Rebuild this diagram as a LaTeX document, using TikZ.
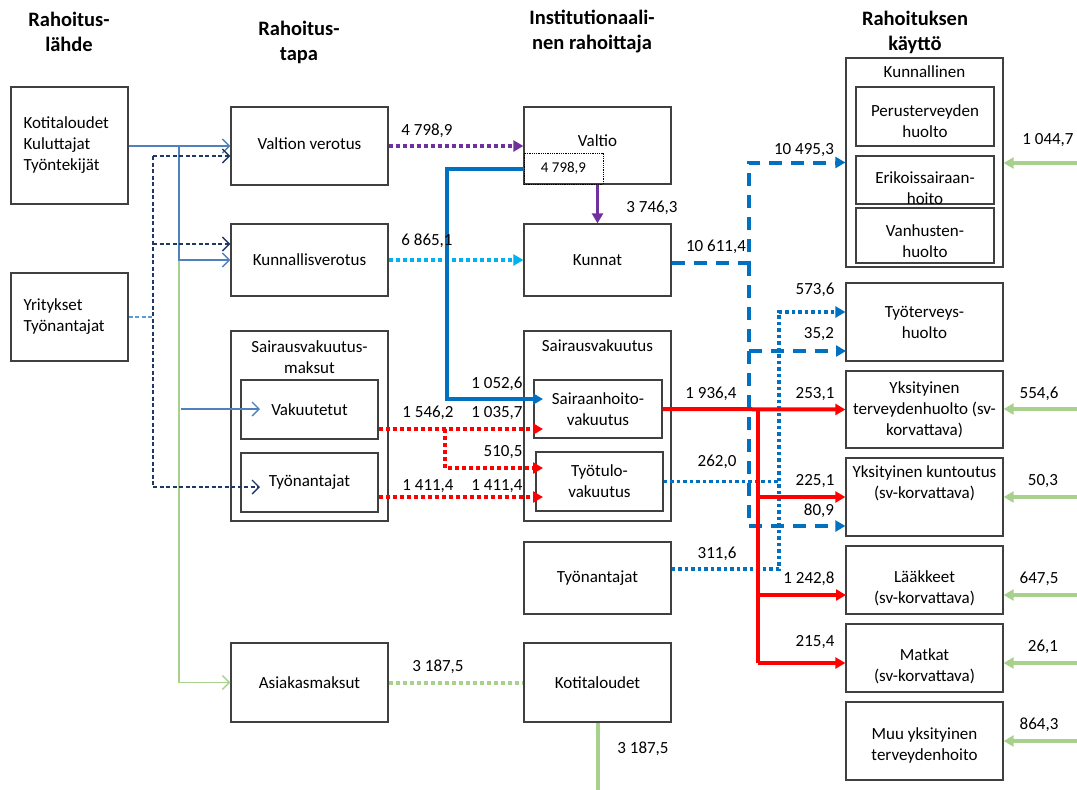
\documentclass[tikz,border=0pt]{standalone}
\usepackage{fontspec}
\setmainfont{Carlito}
\usetikzlibrary{arrows.meta}
\definecolor{srcblue}{HTML}{4F81BD}
\definecolor{navyblue}{HTML}{1F3864}
\definecolor{paleblue}{HTML}{5B9BD5}
\definecolor{flowgreen}{HTML}{A9D18E}
\definecolor{flowpurple}{HTML}{7030A0}
\definecolor{flowcyan}{HTML}{00B0F0}
\definecolor{flowblue}{HTML}{0070C0}
\definecolor{flowred}{HTML}{FF0000}

\begin{document}
\begin{tikzpicture}[x=1pt,y=-1pt,
  every node/.style={align=center},
  font=\fontsize{17}{21}\selectfont,
  >={Triangle[length=10pt,width=11pt]},
  box/.style={draw=black!75,line width=1.3pt,inner sep=0pt},
  head/.style={font=\fontsize{20.5}{25}\selectfont\bfseries},
  opentip/.style={-{Straight Barb[length=7pt,width=14pt]}},
  srcline/.style={draw=srcblue,line width=1.4pt},
  navydash/.style={draw=navyblue,line width=1.4pt,dash pattern=on 4pt off 2.5pt},
  lightdash/.style={draw=paleblue,line width=1.4pt,dash pattern=on 4pt off 2.5pt},
  greenthin/.style={draw=flowgreen,line width=1.4pt},
  purpledot/.style={draw=flowpurple,line width=4pt,dash pattern=on 4pt off 3pt},
  cyandot/.style={draw=flowcyan,line width=4pt,dash pattern=on 4pt off 3pt},
  reddot/.style={draw=flowred,line width=4pt,dash pattern=on 4pt off 3pt},
  greendot/.style={draw=flowgreen,line width=4pt,dash pattern=on 4pt off 3pt},
  bluedot/.style={draw=flowblue,line width=3.5pt,dash pattern=on 3.5pt off 3pt},
  bluedash/.style={draw=flowblue,line width=4pt,dash pattern=on 13pt off 9pt},
  blueline/.style={draw=flowblue,line width=4pt},
  purpleline/.style={draw=flowpurple,line width=3pt},
  redline/.style={draw=flowred,line width=4pt},
  greenline/.style={draw=flowgreen,line width=4pt}]

\useasboundingbox (0,0) rectangle (1077,790);

\node[head] (hsource) at (69,32) {Rahoitus-\\lähde};
\node[head] (hmethod) at (299,42) {Rahoitus-\\tapa};
\node[head] (hinst) at (592,32) {Institutionaali-\\nen rahoittaja};
\node[head] (huse) at (915,32) {Rahoituksen\\käyttö};

\node[box,minimum width=117pt,minimum height=117pt,text width=92pt,align=left] (households) at (69.5,145.5) {Kotitaloudet\\Kuluttajat\\Työntekijät};
\node[box,minimum width=117pt,minimum height=88pt,text width=92pt,align=left] (firms) at (69.5,317) {Yritykset\\Työnantajat};

\node[box,minimum width=157pt,minimum height=78pt,text depth=5pt] (statetax) at (309.5,146) {Valtion verotus};
\node[box,minimum width=157pt,minimum height=72pt] (munitax) at (309.5,260) {Kunnallisverotus};
\node[box,minimum width=157pt,minimum height=190pt] (premiums) at (309.5,426) {};
\node (premiumstitle) at (309.5,357) {Sairausvakuutus-\\maksut};
\node[box,minimum width=137pt,minimum height=59pt] (insured) at (309.5,409.5) {Vakuutetut};
\node[box,minimum width=137pt,minimum height=59pt] (employerpay) at (309.5,482.5) {Työnantajat};
\node[box,minimum width=157pt,minimum height=79pt] (userfees) at (309.5,682.5) {Asiakasmaksut};

\node[box,minimum width=147pt,minimum height=77pt] (state) at (597.5,145.5) {};
\node (statetext) at (597.5,141) {Valtio};
\node[draw,densely dotted,line width=0.8pt,inner sep=0pt,minimum width=79pt,minimum height=31pt,font=\fontsize{15}{18}\selectfont] (statesum) at (563.5,168.5) {4 798,9};
\node[box,minimum width=147pt,minimum height=72pt] (munis) at (597.5,260) {Kunnat};
\node[box,minimum width=147pt,minimum height=190pt] (insurance) at (597.5,426) {};
\node (insurancetitle) at (597.5,346) {Sairausvakuutus};
\node[box,minimum width=128pt,minimum height=58pt] (medical) at (598,409) {Sairaanhoito-\\vakuutus};
\node[box,minimum width=127pt,minimum height=59pt] (income) at (599.5,481.5) {Työtulo-\\vakuutus};
\node[box,minimum width=147pt,minimum height=72pt] (employers) at (597.5,578) {Työnantajat};
\node[box,minimum width=147pt,minimum height=79pt] (homes) at (597.5,682.5) {Kotitaloudet};

\node[box,minimum width=157pt,minimum height=209pt] (municipal) at (924.5,162.5) {};
\node (municipaltitle) at (924.5,72) {Kunnallinen};
\node[box,minimum width=138pt,minimum height=59pt] (primary) at (925,116.5) {};
\node (primarytext) at (925,121) {Perusterveyden\\huolto};
\node[box,minimum width=138pt,minimum height=48pt] (special) at (925,180) {};
\node (specialtext) at (925,188.5) {Erikoissairaan-\\hoito};
\node[box,minimum width=138pt,minimum height=55pt] (elderly) at (925,235.5) {};
\node (elderlytext) at (925,241.5) {Vanhusten-\\huolto};
\node[box,minimum width=157pt,minimum height=78pt] (occupational) at (924.5,322) {Työterveys-\\huolto};
\node[box,minimum width=157pt,minimum height=77pt] (private) at (924.5,409.5) {Yksityinen\\terveydenhuolto (sv-\\korvattava)};
\node[box,minimum width=157pt,minimum height=78pt] (rehab) at (924.5,497) {};
\node (rehabtext) at (924.5,483) {Yksityinen kuntoutus\\(sv-korvattava)};
\node[box,minimum width=157pt,minimum height=68pt] (medicines) at (924.5,580) {};
\node (medicinestext) at (924.5,588) {Lääkkeet\\(sv-korvattava)};
\node[box,minimum width=157pt,minimum height=68pt] (travel) at (924.5,658) {};
\node (traveltext) at (924.5,666) {Matkat\\(sv-korvattava)};
\node[box,minimum width=157pt,minimum height=78pt] (othercare) at (924.5,741) {};
\node (othercaretext) at (924.5,745) {Muu yksityinen\\terveydenhoito};

\coordinate (srcsplit) at (179,146);
\coordinate (feesplit) at (179,260);
\coordinate (insuredfrom) at (181,409);
\coordinate (insuredtip) at (260,409);
\coordinate (firmsplit) at (153,156);
\coordinate (firmmuni) at (153,244);
\coordinate (firmbottom) at (153,487);
\coordinate (employertip) at (260,487);

\draw[greenthin,opentip] (feesplit) |- (userfees.west);
\draw[srcline,opentip] (households.east |- srcsplit) -- (statetax.west |- srcsplit);
\draw[srcline,opentip] (srcsplit) |- (munitax.west);
\draw[srcline,opentip] (insuredfrom) -- (insuredtip);
\draw[lightdash] (firms.east) -- (firms.east -| firmsplit);
\draw[navydash] (firmsplit) -- (firmbottom);
\draw[navydash,opentip] (firmsplit) -- (firmsplit -| statetax.west);
\draw[navydash,opentip] (firmmuni) -- (firmmuni -| munitax.west);
\draw[navydash,opentip] (firmbottom) -- (employertip);

\draw[purpledot,->] (statetax.east) -- (state.west |- statetax.east);
\draw[cyandot,->] (munitax.east) -- (munis.west);
\draw[purpleline,->] (state.south) -- (munis.north);

\coordinate (bluecorner) at (447,399);
\coordinate (medicaltip) at (543,399);
\draw[blueline,->] (statesum.west) -| (bluecorner) -- (medicaltip);

\coordinate (redsplit) at (445,429);
\coordinate (medicaltip2) at (543,429);
\coordinate (incometip) at (543,468);
\coordinate (incometip2) at (543,497);
\draw[reddot,->] (insured.east |- redsplit) -- (medicaltip2);
\draw[reddot,->] (redsplit) |- (incometip);
\draw[reddot,->] (employerpay.east |- incometip2) -- (incometip2);

\coordinate (dashsplit) at (749,263);
\coordinate (dashbottom) at (749,526);
\coordinate (occdash) at (846,351);
\draw[bluedash,->] (munis.east |- dashsplit) -- (dashsplit) |- (municipal.west);
\draw[bluedash] (dashsplit) -- (dashbottom);
\draw[bluedash,->] (dashsplit |- occdash) -- (occdash);
\draw[bluedash,->] (dashbottom) -- (dashbottom -| rehab.west);

\coordinate (dottop) at (779,312);
\coordinate (dotbottom) at (779,569);
\draw[bluedot,->] (employers.east |- dotbottom) -- (dotbottom) -- (dottop) -- (dottop -| occupational.west);
\draw[bluedot] (income.east) -- (income.east -| dottop);

\coordinate (redtop) at (758,409);
\coordinate (redbottom) at (758,663);
\coordinate (medicinetip) at (846,595);
\draw[redline,->] (medical.east) -- (private.west);
\draw[redline] (redtop) -- (redbottom);
\draw[redline,->] (redtop |- rehab.west) -- (rehab.west);
\draw[redline,->] (redtop |- medicinetip) -- (medicinetip);
\draw[redline,->] (redbottom) -- (redbottom -| travel.west);

\coordinate (homesend) at (597.5,790);
\draw[greendot] (userfees.east) -- (homes.west);
\draw[greenline] (homes.south) -- (homesend);

\coordinate (edge1) at (1077,163);
\coordinate (edge2) at (1077,409);
\coordinate (edge3) at (1077,497);
\coordinate (edge4) at (1077,595);
\coordinate (edge5) at (1077,663);
\coordinate (edge6) at (1077,741);
\draw[greenline,->] (edge1) -- (edge1 -| municipal.east);
\draw[greenline,->] (edge2) -- (edge2 -| private.east);
\draw[greenline,->] (edge3) -- (edge3 -| rehab.east);
\draw[greenline,->] (edge4) -- (edge4 -| medicines.east);
\draw[greenline,->] (edge5) -- (edge5 -| travel.east);
\draw[greenline,->] (edge6) -- (edge6 -| othercare.east);

\node (lstatetax) at (427,131) {4 798,9};
\node (lmunitax) at (427,241) {6 865,1};
\node (lmunis) at (652,208) {3 746,3};
\node (lmedical) at (497,384) {1 052,6};
\node (linsured) at (428,413) {1 546,2};
\node (linsured2) at (497,413) {1 035,7};
\node (lincome) at (503,452) {510,5};
\node (lemployer) at (428,486) {1 411,4};
\node (lemployer2) at (497,486) {1 411,4};
\node (lfees) at (438,667) {3 187,5};
\node (lhomes) at (643,749) {3 187,5};
\node (lmunicipal) at (716,247) {10 611,4};
\node (lmunicipal2) at (804,150) {10 495,3};
\node (loccupational) at (815,290) {573,6};
\node (loccupational2) at (819,334) {35,2};
\node (lprivate) at (711,394) {1 936,4};
\node (lprivate2) at (815,394) {253,1};
\node (lincome2) at (717,462) {262,0};
\node (lrehab) at (815,481) {225,1};
\node (lrehab2) at (819,511) {80,9};
\node (lemployers) at (717,554) {311,6};
\node (lmedicines) at (809,579) {1 242,8};
\node (ltravel) at (815,642) {215,4};
\node (lmunicipal3) at (1048,140) {1 044,7};
\node (lprivate3) at (1039,394) {554,6};
\node (lrehab3) at (1043,481) {50,3};
\node (lmedicines3) at (1039,579) {647,5};
\node (ltravel3) at (1043,647) {26,1};
\node (lothercare) at (1039,725) {864,3};

\end{tikzpicture}
\end{document}
